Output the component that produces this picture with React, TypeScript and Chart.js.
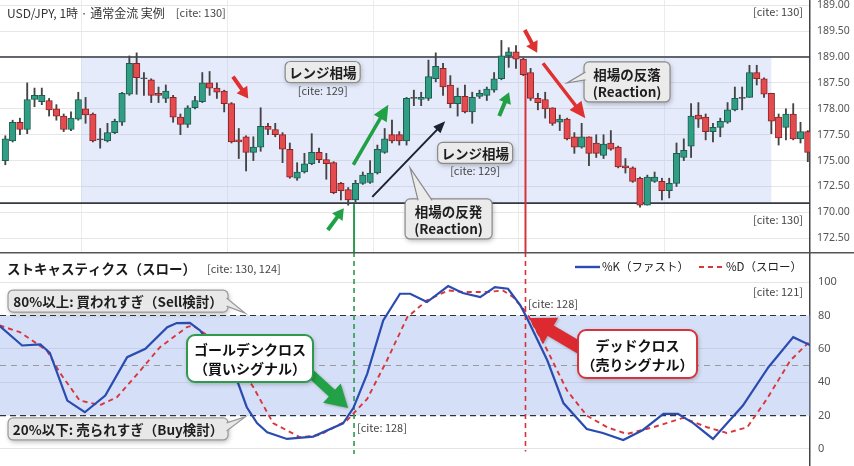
import React, { useEffect, useRef } from "react";
import { Chart, registerables } from "chart.js";
Chart.register(...registerables);

const FONT = '"Noto Sans CJK JP", "Noto Sans", sans-serif';
const NUM_FONT = '"Noto Sans", "DejaVu Sans", sans-serif';

// ---------- candle data (USD/JPY 1h) ----------
const opens = [177.5,179.4,181.2,180.5,183.4,183.2,183.3,182.5,181.8,180.5,181.5,182.5,182.0,179.6,179.4,180.2,181.2,183.9,186.9,185.5,185.3,184.0,183.5,183.6,181.7,181.0,182.6,183.2,185.0,184.5,184.2,183.0,179.5,179.8,178.3,178.8,180.8,180.5,180.0,178.6,175.8,176.4,177.2,178.3,177.6,177.3,175.3,174.7,173.7,175.3,175.4,176.3,178.3,180.0,180.0,179.4,183.5,183.4,183.5,185.4,186.4,184.8,183.0,183.7,182.2,183.7,183.8,184.3,185.4,187.6,188.0,187.3,186.0,183.5,183.4,182.6,181.2,181.5,179.8,178.8,179.8,179.2,178.0,179.2,178.8,177.0,176.8,175.8,173.2,175.5,175.5,174.6,175.3,177.8,178.9,181.9,181.7,180.3,180.7,181.2,182.4,183.5,183.6,186.0,185.4,184.0,181.7,180.7,182.0,179.6,180.3];
const highs = [179.9,181.4,181.6,185.0,184.5,184.5,183.5,182.9,182.0,182.2,184.1,183.6,182.1,180.6,181.1,181.5,184.1,187.6,187.9,186.0,185.4,184.6,184.8,183.8,182.0,182.8,183.7,186.0,186.1,185.0,184.3,183.1,180.6,179.9,179.8,182.6,181.1,181.1,180.2,179.2,177.3,178.2,180.1,178.7,178.2,177.4,175.4,174.9,175.6,176.4,177.5,179.0,180.6,181.4,180.3,183.6,184.3,184.1,187.2,187.9,186.9,185.7,184.5,184.8,184.1,184.3,184.6,186.0,189.1,188.4,188.6,187.4,186.4,184.0,184.1,182.6,181.9,181.6,180.2,181.1,179.8,180.0,180.0,180.4,178.9,177.7,176.9,175.9,176.1,176.4,175.8,175.8,179.2,179.6,183.0,183.1,182.0,181.1,181.6,183.1,184.6,184.6,186.7,186.7,185.5,184.0,182.0,182.5,183.0,181.2,180.4];
const lows = [177.1,179.3,180.0,180.1,182.7,182.9,181.8,181.4,180.3,180.4,181.4,181.1,179.3,178.7,179.3,180.1,180.9,183.8,183.9,183.8,183.1,183.1,183.1,181.2,180.0,180.7,182.5,183.1,183.8,183.5,182.2,179.2,177.7,176.5,177.5,178.4,180.0,179.8,177.3,175.8,175.6,176.3,177.1,177.3,175.7,174.3,173.7,173.2,173.5,175.2,175.3,176.2,178.2,179.2,179.0,179.0,182.8,182.8,183.3,185.1,183.8,182.6,181.8,182.1,181.1,183.5,183.3,184.1,185.3,186.5,186.4,185.7,183.3,182.4,181.6,180.9,180.4,179.5,178.2,178.7,177.0,177.8,177.7,178.5,176.8,176.3,175.4,173.0,173.2,175.4,173.7,173.9,175.0,177.5,177.8,180.7,179.5,179.3,179.8,181.1,182.3,182.4,183.6,184.8,183.6,180.1,179.0,179.5,179.5,179.2,177.4];
const closes = [179.6,181.2,180.5,183.4,183.8,183.8,182.4,181.8,180.5,181.6,183.4,181.9,179.4,179.5,180.2,181.3,184.0,186.9,185.5,185.4,183.8,183.8,184.2,181.7,181.0,182.6,183.3,185.0,184.5,184.1,183.0,179.3,179.3,178.3,178.8,180.8,180.5,180.0,178.6,175.9,176.4,177.2,178.3,177.6,177.2,174.4,174.6,173.7,175.3,176.1,176.3,178.6,179.6,179.4,179.4,183.5,183.6,183.6,185.6,186.6,184.6,183.0,183.7,182.2,183.6,184.0,184.4,185.4,187.6,188.0,187.3,185.8,183.5,183.1,182.5,181.1,181.5,179.6,178.8,179.8,178.2,178.2,179.1,178.6,176.9,176.8,175.5,173.2,175.9,175.9,174.6,175.3,178.2,178.5,181.8,181.5,180.3,180.7,181.3,182.4,183.5,183.6,186.0,185.4,183.9,181.3,179.7,182.0,179.6,180.3,178.3];

// price axis: tick values and the labels printed next to them (bottom -> top)
const priceTickValues = [170, 172.5, 175, 177.5, 180, 182.5, 185, 187.5, 190, 192.5];
const priceTickLabels = ["172.50", "170.00", "172.50", "175.00", "177.50", "178.00", "187.50", "189.00", "189.50", "189.00"];
const timeGridIdx = [10.5, 30.4, 50.4, 70.3, 90.3];

// range (レンジ相場)
const rangeTop = 187.5;
const rangeBottom = 173.4;
const rangeStartIdx = 10.4;
const rangeEndIdx = 105.0;

// stochastic slow
const kIdx = [-0.8,2.3,4.8,6.1,8.5,10.9,13.7,16.7,19.2,22.2,23.5,25.3,26.7,31.9,33.1,34.5,35.9,38.6,42.2,46.3,47.7,49.6,51.8,54.1,55.5,57.8,60.7,62.7,65.1,67.1,68.9,70.6,71.5,74.3,76.5,79.7,81.9,84.7,87.4,90.2,92.2,94.3,97.0,101.1,104.6,108.0,110.4];
const kVal = [73.7,62,62.7,57.5,29,22,32,55,60,73,75.4,75.5,71,39.5,25,15.5,10,6,7.4,15.4,24.5,45,77,93,93,88,97.6,93.4,91,97,96,86,78.4,53,27.5,12,9.6,5.4,11.4,21,21,15.5,6,26,49,67,62];
const dIdx = [-0.8,2.0,5.7,7.5,10.2,13.0,15.3,18.5,21.2,24.9,25.7,27.7,33.1,34.0,36.7,40.4,43.1,46.8,49.6,52.3,55.1,57.8,60.7,62.7,66.0,68.2,69.6,71.5,74.3,77.0,79.7,82.5,85.2,88.8,92.9,96.2,98.9,101.7,104.4,107.6,110.4];
const dVal = [74,70,59,45.5,29,26.3,31,47,61,73,74,68,43,37,15.5,7,8.4,17,30,53,79,89,95,94,94,95,91,81.4,59,35,20,13,9,13,18.6,13,9.6,13,30,53,65];
const stochTicks = [0, 20, 40, 60, 80, 100];
const overbought = 80;
const oversold = 20;
const midLine = 50;

const goldenCrossIdx = 47.8;
const deadCrossIdx = 71.3;

const X_MIN = -0.73;
const X_MAX = 110.3;

// ---------- styles ----------
const GREEN_FILL = "#2f9e84";
const GREEN_EDGE = "#1d5d4f";
const RED_FILL = "#e44b4f";
const RED_EDGE = "#8e2326";
const DOJI = "#4a4a4a";
const ARROW_RED = "#e03131";
const ARROW_GREEN = "#21a046";
const LINE_BLUE = "#2a4bb0";
const LINE_RED = "#d8373c";

function roundRect(ctx: CanvasRenderingContext2D, x: number, y: number, w: number, h: number, r: number) {
  ctx.beginPath();
  ctx.moveTo(x + r, y);
  ctx.arcTo(x + w, y, x + w, y + h, r);
  ctx.arcTo(x + w, y + h, x, y + h, r);
  ctx.arcTo(x, y + h, x, y, r);
  ctx.arcTo(x, y, x + w, y, r);
  ctx.closePath();
}

function drawArrow(ctx: CanvasRenderingContext2D, x1: number, y1: number, x2: number, y2: number, color: string, shaft: number, head: number, headW: number, shadow = false) {
  const ang = Math.atan2(y2 - y1, x2 - x1);
  const len = Math.hypot(x2 - x1, y2 - y1);
  ctx.save();
  if (shadow) {
    ctx.shadowColor = "rgba(0,0,0,0.25)";
    ctx.shadowBlur = 3;
    ctx.shadowOffsetX = 1;
    ctx.shadowOffsetY = 1;
  }
  ctx.translate(x1, y1);
  ctx.rotate(ang);
  ctx.beginPath();
  ctx.moveTo(0, -shaft / 2);
  ctx.lineTo(len - head, -shaft / 2);
  ctx.lineTo(len - head, -headW / 2);
  ctx.lineTo(len, 0);
  ctx.lineTo(len - head, headW / 2);
  ctx.lineTo(len - head, shaft / 2);
  ctx.lineTo(0, shaft / 2);
  ctx.closePath();
  ctx.fillStyle = color;
  ctx.fill();
  ctx.restore();
}

type BubbleStyle = { fill: string; stroke: string; lw: number; r: number; font: string; color: string; lineH: number };
const GRAY_BUBBLE: BubbleStyle = { fill: "#ebebeb", stroke: "#8a8a8a", lw: 1.2, r: 5, font: `bold 13.5px ${FONT}`, color: "#1e1e1e", lineH: 17 };

function drawBubble(ctx: CanvasRenderingContext2D, cx: number, cy: number, w: number, h: number, lines: string[], s: BubbleStyle, tail?: { tip: number[]; base: number[][] }) {
  const x0 = cx - w / 2;
  const y0 = cy - h / 2;
  ctx.save();
  ctx.shadowColor = "rgba(0,0,0,0.28)";
  ctx.shadowBlur = 5;
  ctx.shadowOffsetX = 1;
  ctx.shadowOffsetY = 2;
  roundRect(ctx, x0, y0, w, h, s.r);
  ctx.fillStyle = s.fill;
  ctx.fill();
  ctx.shadowColor = "rgba(0,0,0,0)";
  ctx.lineWidth = s.lw;
  ctx.strokeStyle = s.stroke;
  ctx.stroke();
  if (tail) {
    const [p1, p2] = tail.base;
    ctx.beginPath();
    ctx.moveTo(p1[0], p1[1]);
    ctx.lineTo(tail.tip[0], tail.tip[1]);
    ctx.lineTo(p2[0], p2[1]);
    ctx.closePath();
    ctx.fill();
    ctx.beginPath();
    ctx.moveTo(p1[0], p1[1]);
    ctx.lineTo(tail.tip[0], tail.tip[1]);
    ctx.lineTo(p2[0], p2[1]);
    ctx.stroke();
  }
  ctx.fillStyle = s.color;
  ctx.font = s.font;
  ctx.textAlign = "center";
  ctx.textBaseline = "middle";
  const n = lines.length;
  lines.forEach((t, i) => ctx.fillText(t, cx, cy + 1 + (i - (n - 1) / 2) * s.lineH));
  ctx.restore();
}

function text(ctx: CanvasRenderingContext2D, t: string, x: number, y: number, font: string, color: string, align: CanvasTextAlign = "left") {
  ctx.save();
  ctx.font = font;
  ctx.fillStyle = color;
  ctx.textAlign = align;
  ctx.textBaseline = "middle";
  ctx.fillText(t, x, y);
  ctx.restore();
}

function vline(ctx: CanvasRenderingContext2D, x: number, y1: number, y2: number, color: string, lw: number, dash: number[] = []) {
  ctx.save();
  ctx.strokeStyle = color;
  ctx.lineWidth = lw;
  ctx.setLineDash(dash);
  ctx.beginPath();
  ctx.moveTo(x, y1);
  ctx.lineTo(x, y2);
  ctx.stroke();
  ctx.restore();
}

function hline(ctx: CanvasRenderingContext2D, x1: number, x2: number, y: number, color: string, lw: number, dash: number[] = []) {
  ctx.save();
  ctx.strokeStyle = color;
  ctx.lineWidth = lw;
  ctx.setLineDash(dash);
  ctx.beginPath();
  ctx.moveTo(x1, y);
  ctx.lineTo(x2, y);
  ctx.stroke();
  ctx.restore();
}

// ---------- annotations (data coordinates: candle index, value) ----------
const topArrows = [
  { from: [31.2, 185.6], to: [33.3, 183.5], color: ARROW_RED, shaft: 4, head: 11, headW: 13 },
  { from: [71.2, 190.1], to: [72.9, 187.9], color: ARROW_RED, shaft: 4, head: 11, headW: 13 },
  { from: [73.7, 186.9], to: [79.5, 181.6], color: ARROW_RED, shaft: 3.5, head: 16, headW: 15 },
  { from: [44.2, 170.8], to: [46.4, 172.9], color: ARROW_GREEN, shaft: 4, head: 11, headW: 13 },
  { from: [47.7, 177.1], to: [52.5, 182.9], color: ARROW_GREEN, shaft: 3.5, head: 16, headW: 15 },
  { from: [67.7, 181.8], to: [69.05, 184.1], color: ARROW_GREEN, shaft: 4, head: 11, headW: 13 },
  { from: [50.3, 174.0], to: [60.3, 181.3], color: "#1a2233", shaft: 2, head: 12, headW: 10 },
];
const rangeLabelPos = [
  { box: [43.5, 186.05], cite: [43.5, 184.2] },
  { box: [64.4, 178.24], cite: [64.4, 176.5] },
];

const topPlugin = {
  id: "topAnno",
  beforeDatasetsDraw(chart: any) {
    const { ctx, chartArea: a, scales } = chart;
    const X = (v: number) => scales.x.getPixelForValue(v);
    const Y = (v: number) => scales.y.getPixelForValue(v);
    ctx.save();
    ctx.fillStyle = "rgba(150,175,235,0.25)";
    ctx.fillRect(X(rangeStartIdx), Y(rangeTop), X(rangeEndIdx) - X(rangeStartIdx), Y(rangeBottom) - Y(rangeTop));
    ctx.restore();
    hline(ctx, a.left, a.right, Y(rangeTop), "#353a42", 1.6);
    hline(ctx, a.left, a.right, Y(rangeBottom), "#353a42", 1.6);
    vline(ctx, X(goldenCrossIdx), Y(173.3), a.bottom, "#2e9a4c", 2);
    vline(ctx, X(deadCrossIdx), Y(185.8), a.bottom, "#d8333a", 2);
  },
  afterDatasetsDraw(chart: any) {
    const { ctx, chartArea: a, scales } = chart;
    const X = (v: number) => scales.x.getPixelForValue(v);
    const Y = (v: number) => scales.y.getPixelForValue(v);

    const title = "USD/JPY, 1時 · 通常金流 実例";
    ctx.save();
    ctx.font = `12px ${FONT}`;
    const tw = ctx.measureText(title).width;
    ctx.restore();
    text(ctx, title, a.left + 7, 13, `12px ${FONT}`, "#333");
    text(ctx, "[cite: 130]", a.left + 7 + tw + 11, 13, `11px ${FONT}`, "#444");
    text(ctx, "[cite: 130]", a.right - 7, Y(191.84), `11px ${FONT}`, "#444", "right");
    text(ctx, "[cite: 130]", a.right - 7, Y(171.77), `11px ${FONT}`, "#444", "right");

    topArrows.forEach((ar) =>
      drawArrow(ctx, X(ar.from[0]), Y(ar.from[1]), X(ar.to[0]), Y(ar.to[1]), ar.color, ar.shaft, ar.head, ar.headW)
    );

    rangeLabelPos.forEach((p) => {
      drawBubble(ctx, X(p.box[0]), Y(p.box[1]), 75, 21, ["レンジ相場"], GRAY_BUBBLE);
      text(ctx, "[cite: 129]", X(p.cite[0]), Y(p.cite[1]), `11px ${FONT}`, "#444", "center");
    });

    // 相場の反発
    {
      const cx = X(60.76), cy = Y(171.87), w = 87, h = 40;
      const x0 = cx - w / 2, y0 = cy - h / 2;
      drawBubble(ctx, cx, cy, w, h, ["相場の反発", "(Reaction)"], GRAY_BUBBLE, {
        tip: [X(55.48), Y(176.79)],
        base: [[x0 + 13, y0 + 1.5], [x0 + 27, y0 + 1.5]],
      });
    }
    // 相場の反落
    {
      const cx = X(85.22), cy = Y(185.09), w = 86, h = 40;
      const x0 = cx - w / 2;
      drawBubble(ctx, cx, cy, w, h, ["相場の反落", "(Reaction)"], GRAY_BUBBLE, {
        tip: [X(76.99), Y(184.99)],
        base: [[x0 + 1.5, cy - 10], [x0 + 1.5, cy - 2]],
      });
    }
  },
};

const bottomPlugin = {
  id: "bottomAnno",
  beforeDatasetsDraw(chart: any) {
    const { ctx, chartArea: a, scales } = chart;
    const X = (v: number) => scales.x.getPixelForValue(v);
    const Y = (v: number) => scales.y.getPixelForValue(v);
    ctx.save();
    ctx.fillStyle = "rgba(150,175,235,0.40)";
    ctx.fillRect(a.left, Y(overbought), a.right - a.left, Y(oversold) - Y(overbought));
    ctx.restore();
    hline(ctx, a.left, a.right, Y(midLine), "#9a9a9a", 1, [6, 5]);
    hline(ctx, a.left, a.right, Y(overbought), "#333", 1.1, [6, 4]);
    hline(ctx, a.left, a.right, Y(oversold), "#333", 1.1, [6, 4]);
    vline(ctx, X(goldenCrossIdx), 0, Y(-3), "#2e9a4c", 1.6, [5, 4]);
    vline(ctx, X(deadCrossIdx), 0, Y(-1.5), "#d8333a", 1.6, [5, 4]);
  },
  afterDatasetsDraw(chart: any) {
    const { ctx, chartArea: a, scales, width } = chart;
    const X = (v: number) => scales.x.getPixelForValue(v);
    const Y = (v: number) => scales.y.getPixelForValue(v);

    hline(ctx, 0, width, 0.75, "#555", 1.5);

    // title
    const title = "ストキャスティクス（スロー）";
    ctx.save();
    ctx.font = `bold 13.5px ${FONT}`;
    const tw = ctx.measureText(title).width;
    ctx.restore();
    text(ctx, title, a.left + 7, 17, `bold 13.5px ${FONT}`, "#1a1a1a");
    text(ctx, "[cite: 130, 124]", a.left + 7 + tw + 11, 17, `11px ${FONT}`, "#444");

    // legend (right aligned)
    const lf = `11.5px ${FONT}`;
    ctx.save();
    ctx.font = lf;
    const dLabel = "%D（スロー）";
    const kLabel = "%K（ファスト）";
    const dW = ctx.measureText(dLabel).width;
    const kW = ctx.measureText(kLabel).width;
    ctx.restore();
    const ly = 15;
    const dTextX = a.right - 8 - dW;
    const dLineX2 = dTextX - 2;
    const dLineX1 = dLineX2 - 25;
    const kTextX = dLineX1 - 10 - kW;
    const kLineX2 = kTextX - 2;
    const kLineX1 = kLineX2 - 25;
    hline(ctx, kLineX1, kLineX2, ly, LINE_BLUE, 2.4);
    text(ctx, kLabel, kTextX, ly, lf, "#222");
    hline(ctx, dLineX1, dLineX2, ly, LINE_RED, 2, [5, 4]);
    text(ctx, dLabel, dTextX, ly, lf, "#222");

    text(ctx, "[cite: 121]", a.right - 7, Y(94), `11px ${FONT}`, "#444", "right");
    text(ctx, "[cite: 128]", X(48.2), Y(12.6), `11px ${FONT}`, "#444");
    text(ctx, "[cite: 128]", X(71.65), Y(86.8), `11px ${FONT}`, "#444");

    // 80% / 20% callouts
    {
      const cx = X(15.45), cy = Y(88.6), w = 220, h = 22;
      const x1 = cx + w / 2;
      drawBubble(ctx, cx, cy, w, h, ["80%以上: 買われすぎ（Sell検討）"], { ...GRAY_BUBBLE, fill: "#e8e8e8", stroke: "#999" }, {
        tip: [X(32.86), Y(81.4)],
        base: [[x1 - 1.5, cy - 3], [x1 - 1.5, cy + 5]],
      });
    }
    {
      const cx = X(15.45), cy = Y(12.0), w = 220, h = 22;
      const x1 = cx + w / 2;
      drawBubble(ctx, cx, cy, w, h, ["20%以下: 売られすぎ（Buy検討）"], { ...GRAY_BUBBLE, fill: "#e8e8e8", stroke: "#999" }, {
        tip: [X(32.86), Y(19.2)],
        base: [[x1 - 1.5, cy - 6], [x1 - 1.5, cy + 2]],
      });
    }

    // signal arrows then boxes
    drawArrow(ctx, X(41.77), Y(45.5), X(46.98), Y(24.55), "#22a146", 9, 22, 26, true);
    drawArrow(ctx, X(78.78), Y(60.5), X(71.79), Y(78.44), "#dd2a31", 12, 25, 30, true);

    const sig = { fill: "#ffffff", lw: 2, r: 8, font: `bold 14px ${FONT}`, color: "#111", lineH: 19 };
    drawBubble(ctx, X(33.54), Y(54.2), 126, 47, ["ゴールデンクロス", "（買いシグナル）"], { ...sig, stroke: "#2f9a4c" });
    drawBubble(ctx, X(86.66), Y(56.9), 119, 48, ["デッドクロス", "（売りシグナル）"], { ...sig, stroke: "#d8333a" });
  },
};

function zeroPad(s: any) {
  s.paddingTop = 0;
  s.paddingBottom = 0;
  s.paddingLeft = 0;
  s.paddingRight = 0;
}

export default function App() {
  const topRef = useRef<HTMLCanvasElement>(null);
  const botRef = useRef<HTMLCanvasElement>(null);

  useEffect(() => {
    Chart.defaults.font.family = FONT;

    const bodyData = opens.map((o, i) => ({ x: i, y: [Math.min(o, closes[i]), Math.max(o, closes[i])] }));
    const wickData = opens.map((_, i) => ({ x: i, y: [lows[i], highs[i]] }));
    const kind = (i: number) => (Math.abs(closes[i] - opens[i]) < 0.15 ? 0 : closes[i] > opens[i] ? 1 : -1);
    const bodyFill = opens.map((_, i) => (kind(i) === 0 ? DOJI : kind(i) > 0 ? GREEN_FILL : RED_FILL));
    const bodyEdge = opens.map((_, i) => (kind(i) === 0 ? DOJI : kind(i) > 0 ? GREEN_EDGE : RED_EDGE));

    const top = new Chart(topRef.current as HTMLCanvasElement, {
      type: "bar",
      data: {
        datasets: [
          {
            data: bodyData as any,
            backgroundColor: bodyFill,
            borderColor: bodyEdge,
            borderWidth: 1,
            borderSkipped: false,
            grouped: false,
            barPercentage: 1,
            categoryPercentage: 1,
            maxBarThickness: 6.5,
            minBarLength: 1,
            order: 0,
          } as any,
          {
            data: wickData as any,
            backgroundColor: "#444",
            borderWidth: 0,
            grouped: false,
            barPercentage: 1,
            categoryPercentage: 1,
            maxBarThickness: 1.2,
            order: 1,
          } as any,
        ],
      },
      options: {
        responsive: false,
        animation: false,
        events: [],
        layout: { padding: 0 },
        plugins: { legend: { display: false }, tooltip: { enabled: false } },
        scales: {
          x: {
            type: "linear",
            offset: false,
            min: X_MIN,
            max: X_MAX,
            ticks: { display: false },
            grid: { color: "#ececec", drawTicks: false, offset: false },
            border: { display: false },
            afterBuildTicks: (s: any) => {
              s.ticks = timeGridIdx.map((v) => ({ value: v }));
            },
            afterFit: (s: any) => {
              s.height = 0;
              zeroPad(s);
            },
          },
          y: {
            position: "right",
            min: 168.68,
            max: 193.0,
            afterBuildTicks: (s: any) => {
              s.ticks = priceTickValues.map((v) => ({ value: v }));
            },
            ticks: {
              padding: 7,
              color: "#555",
              font: { family: NUM_FONT, size: 10.5 },
              callback: (v: any) => priceTickLabels[priceTickValues.indexOf(Number(v))] ?? "",
            },
            grid: { color: "#e6e6e6", drawTicks: false },
            border: { color: "#444", width: 1.5 },
            afterFit: (s: any) => {
              s.width = 44;
              zeroPad(s);
            },
          },
        },
      } as any,
      plugins: [topPlugin],
    });

    const bottom = new Chart(botRef.current as HTMLCanvasElement, {
      type: "line",
      data: {
        datasets: [
          {
            label: "%K（ファスト）",
            data: kIdx.map((x, i) => ({ x, y: kVal[i] })),
            borderColor: LINE_BLUE,
            borderWidth: 2.2,
            pointRadius: 0,
            tension: 0,
            fill: false,
          },
          {
            label: "%D（スロー）",
            data: dIdx.map((x, i) => ({ x, y: dVal[i] })),
            borderColor: LINE_RED,
            borderWidth: 1.9,
            borderDash: [5, 4],
            pointRadius: 0,
            tension: 0,
            fill: false,
          },
        ],
      },
      options: {
        responsive: false,
        animation: false,
        events: [],
        layout: { padding: 0 },
        plugins: { legend: { display: false }, tooltip: { enabled: false } },
        scales: {
          x: { type: "linear", display: false, offset: false, min: X_MIN, max: X_MAX },
          y: {
            position: "right",
            min: -10.2,
            max: 118,
            afterBuildTicks: (s: any) => {
              s.ticks = stochTicks.map((v) => ({ value: v }));
            },
            ticks: {
              padding: 8,
              color: "#555",
              font: { family: NUM_FONT, size: 11 },
              callback: (v: any) => String(v),
            },
            grid: {
              color: (c: any) =>
                c.tick && (c.tick.value === overbought || c.tick.value === oversold) ? "rgba(0,0,0,0)" : "#e4e4e4",
              drawTicks: false,
            },
            border: { color: "#444", width: 1.5 },
            afterFit: (s: any) => {
              s.width = 44;
              zeroPad(s);
            },
          },
        },
      } as any,
      plugins: [bottomPlugin],
    });

    return () => {
      top.destroy();
      bottom.destroy();
    };
  }, []);

  return (
    <div style={{ position: "fixed", left: 0, top: 0, width: 854, height: 466, background: "#fff", overflow: "hidden" }}>
      <canvas ref={topRef} width={854} height={252} style={{ display: "block", width: 854, height: 252 }} />
      <canvas ref={botRef} width={854} height={214} style={{ display: "block", width: 854, height: 214 }} />
    </div>
  );
}
